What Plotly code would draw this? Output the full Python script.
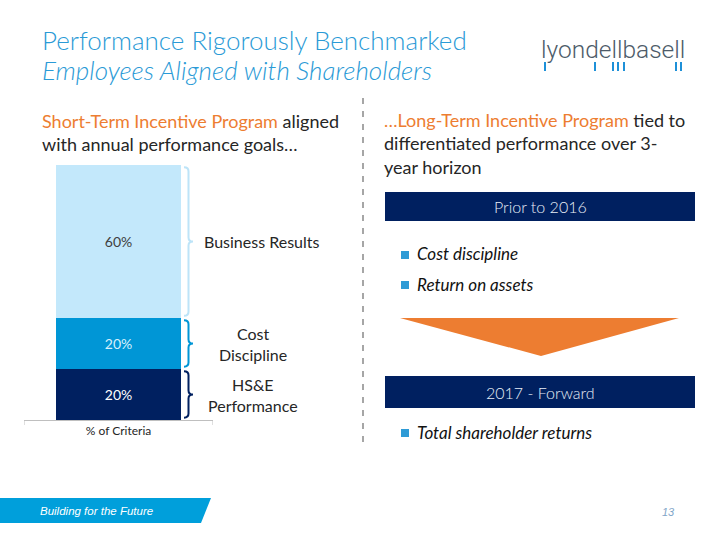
import plotly.graph_objects as go

# ---- data ----
segments = ["HS&E Performance", "Cost Discipline", "Business Results"]
weights = [20, 20, 60]
seg_labels = ["20%", "20%", "60%"]
brace_labels = ["HS&E<br>Performance", "Cost<br>Discipline", "Business Results"]
category = ["% of Criteria"]
prior_items = ["Cost discipline", "Return on assets"]
forward_items = ["Total shareholder returns"]

W, H = 720, 540
def px(x): return x / W
def py(y): return 1 - y / H

seg_colors = ["#002060", "#0096D6", "#C3E8FB"]
brace_colors = ["#002060", "#0096D6", "#BDE4F8"]
text_colors = ["#FFFFFF", "#D9F0FC", "#404040"]
FONT = "Lato"
DARK = "#262626"

fig = go.Figure()
for name, w, lab, c, tc in zip(segments, weights, seg_labels, seg_colors, text_colors):
    fig.add_trace(go.Bar(
        x=category, y=[w], name=name, text=[lab], textposition="inside",
        insidetextanchor="middle", marker=dict(color=c, line=dict(width=0)),
        textfont=dict(color=tc, size=14, family=FONT), width=0.66,
        hoverinfo="skip", showlegend=False, cliponaxis=False))

shapes = []
annotations = []

# axis end ticks
for xv in (-0.5, 0.5):
    shapes.append(dict(type="line", xref="x", yref="paper", x0=xv, x1=xv,
                       y0=py(420), y1=py(425), line=dict(color="#BFBFBF", width=1)))

# braces built from the stacked segment boundaries
x0b, xmb, xtb = px(184), px(188.5), px(193)
cum = 0
for w, bc, bl in zip(weights, brace_colors, brace_labels):
    lo, hi = cum + 0.9, cum + w - 0.9
    mid = cum + w / 2
    r = 1.6
    path = (f"M {x0b},{hi} Q {xmb},{hi} {xmb},{hi - r} "
            f"L {xmb},{mid + r} Q {xmb},{mid} {xtb},{mid} "
            f"Q {xmb},{mid} {xmb},{mid - r} "
            f"L {xmb},{lo + r} Q {xmb},{lo} {x0b},{lo}")
    shapes.append(dict(type="path", xref="paper", yref="y", path=path,
                       line=dict(color=bc, width=2)))
    cx = 262 if w == 60 else 253
    annotations.append(dict(xref="paper", yref="y", x=px(cx), y=mid, text=bl,
                            showarrow=False, xanchor="center", yanchor="middle",
                            font=dict(family=FONT, size=16, color=DARK), align="center"))
    cum += w

# dashed divider
shapes.append(dict(type="line", xref="paper", yref="paper", x0=px(363), x1=px(363),
                   y0=py(98), y1=py(442), line=dict(color="#A6A6A6", width=2, dash="6px,7px")))

# navy boxes
for (y0, y1, label) in [(192, 221, "Prior to 2016"), (376, 408, "2017 - Forward")]:
    shapes.append(dict(type="rect", xref="paper", yref="paper", x0=px(385), x1=px(695),
                       y0=py(y0), y1=py(y1), fillcolor="#002060", line=dict(width=0)))
    annotations.append(dict(xref="paper", yref="paper", x=px(540), y=py((y0 + y1) / 2),
                            text=label, showarrow=False, xanchor="center", yanchor="middle",
                            font=dict(family=FONT, size=16, color="#E8EEF7", weight=300)))

# orange arrow triangle
shapes.append(dict(type="path", xref="paper", yref="paper",
                   path=f"M {px(400)},{py(318)} L {px(679)},{py(318)} L {px(541)},{py(356)} Z",
                   fillcolor="#ED7D31", line=dict(width=0)))

# bullets
def bullet(y, txt):
    shapes.append(dict(type="rect", xref="paper", yref="paper", x0=px(401), x1=px(409),
                       y0=py(y - 4), y1=py(y + 4), fillcolor="#2E9BD6", line=dict(width=0)))
    annotations.append(dict(xref="paper", yref="paper", x=px(415), y=py(y - 1),
                            text=f"<i>{txt}</i>", showarrow=False, xanchor="left",
                            yanchor="middle", font=dict(family=FONT, size=17, color="#111111")))
for y, t in zip([255, 285], prior_items):
    bullet(y, t)
for y, t in zip([433], forward_items):
    bullet(y, t)

# title
annotations.append(dict(xref="paper", yref="paper", x=px(40), y=py(40),
                        text="Performance Rigorously Benchmarked", showarrow=False,
                        xanchor="left", yanchor="middle",
                        font=dict(family=FONT, size=26, color="#2A9AD6", weight=300)))
annotations.append(dict(xref="paper", yref="paper", x=px(40), y=py(70),
                        text="<i>Employees Aligned with Shareholders</i>", showarrow=False,
                        xanchor="left", yanchor="middle",
                        font=dict(family=FONT, size=26, color="#2A9AD6", weight=300)))

ORANGE = "#ED7D31"
# left header
annotations.append(dict(xref="paper", yref="paper", x=px(40), y=py(132),
                        text=f"<span style='color:{ORANGE}'>Short-Term Incentive Program</span> aligned<br>with annual performance goals…",
                        showarrow=False, xanchor="left", yanchor="middle", align="left",
                        font=dict(family=FONT, size=18, color=DARK)))
# right header
annotations.append(dict(xref="paper", yref="paper", x=px(382), y=py(143),
                        text=f"<span style='color:{ORANGE}'>…Long-Term Incentive Program</span> tied to<br>differentiated performance over 3-<br>year horizon",
                        showarrow=False, xanchor="left", yanchor="middle", align="left",
                        font=dict(family=FONT, size=18, color=DARK)))

# logo
annotations.append(dict(xref="paper", yref="paper", x=px(539), y=py(49),
                        text="lyondellbasell", showarrow=False, xanchor="left", yanchor="middle",
                        font=dict(family="Roboto", size=24.5, color="#4D5B69", weight=300)))
for bx in [544, 594, 612, 617, 623, 675, 680]:
    shapes.append(dict(type="rect", xref="paper", yref="paper", x0=px(bx), x1=px(bx + 2),
                       y0=py(62), y1=py(71), fillcolor="#1E90D8", line=dict(width=0)))

# footer
shapes.append(dict(type="path", xref="paper", yref="paper",
                   path=f"M 0,{py(498)} L {px(211)},{py(498)} L {px(201)},{py(523)} L 0,{py(523)} Z",
                   fillcolor="#009FDB", line=dict(width=0)))
annotations.append(dict(xref="paper", yref="paper", x=px(38), y=py(511),
                        text="<i>Building for the Future</i>", showarrow=False, xanchor="left",
                        yanchor="middle", font=dict(family="Liberation Sans", size=11.5, color="#FFFFFF")))
annotations.append(dict(xref="paper", yref="paper", x=px(677), y=py(512),
                        text="<i>13</i>", showarrow=False, xanchor="right",
                        yanchor="middle", font=dict(family="Liberation Sans", size=11, color="#7FA6C8")))

fig.update_layout(
    width=W, height=H, margin=dict(l=0, r=0, t=0, b=0),
    paper_bgcolor="white", plot_bgcolor="white", barmode="stack", bargap=0,
    shapes=shapes, annotations=annotations,
    xaxis=dict(domain=[px(24), px(213)], range=[-0.5, 0.5], showline=True,
               linecolor="#BFBFBF", linewidth=1, ticks="", showgrid=False,
               tickfont=dict(family=FONT, size=12, color=DARK), fixedrange=True),
    yaxis=dict(domain=[py(420), py(165)], range=[0, 100], visible=False,
               showgrid=False, fixedrange=True),
)

fig.write_html("out.html", config={"displayModeBar": False},
               post_script="document.body.style.margin='0';document.body.style.overflow='hidden';")
